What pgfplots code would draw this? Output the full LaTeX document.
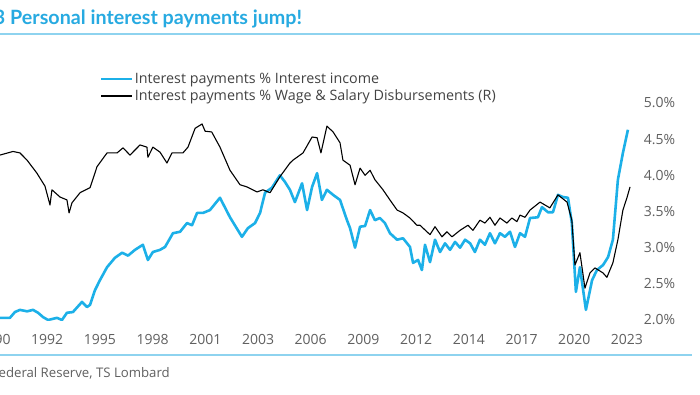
\documentclass[border=0pt]{standalone}
\usepackage{pgfplots}
\pgfplotsset{compat=1.18}
\usepackage{fontspec}
\setmainfont{Open Sans}
\newfontfamily\titlefont{Lato}
\definecolor{cblue}{HTML}{1CB0E8}
\definecolor{tblue}{HTML}{27AAE1}
\definecolor{rulec}{HTML}{8ED3EF}
\definecolor{tgray}{HTML}{606060}
\begin{document}
\begin{tikzpicture}[x=1pt,y=1pt]
\path[use as bounding box, fill=white] (0,0) rectangle (700,394);
\clip (0,0) rectangle (700,394);
\node[anchor=base west, inner sep=0, font=\titlefont\fontsize{19.7}{22}\selectfont\bfseries, text=tblue] at (10,369) {Personal interest payments jump!};
\node[anchor=base east, inner sep=0, font=\titlefont\fontsize{19.7}{22}\selectfont\bfseries, text=tblue] at (5.5,369) {Chart 3};
\draw[rulec, line width=1.2pt] (0,360) -- (700,360);
\draw[rulec, line width=1.2pt] (0,39) -- (692,39);
\node[anchor=base east, inner sep=0, font=\fontsize{13.2}{15}\selectfont, text=tgray] at (170,17) {Source: Federal Reserve, TS Lombard};
\begin{axis}[
  at={(-19.56pt,74pt)}, anchor=south west, scale only axis,
  width=660pt, height=217pt,
  xmin=1989.5, xmax=2023.75, ymin=2, ymax=5,
  axis line style={draw=none}, major tick length=0pt,
  ytick={2,2.5,3,3.5,4,4.5,5},
  yticklabel pos=right,
  yticklabel={\pgfmathprintnumber[fixed,fixed zerofill,precision=1]{\tick}\%},
  xtick={1990.23,1992.965,1995.70,1998.435,2001.17,2003.905,2006.64,2009.375,2012.11,2014.845,2017.58,2020.315,2023.05},
  xticklabels={1990,1992,1995,1998,2001,2003,2006,2009,2012,2014,2017,2020,2023},
  ticklabel style={font=\fontsize{14}{16}\selectfont, text=tgray},
  xticklabel style={yshift=-11pt},
  /pgf/number format/assume math mode=true,
  legend cell align=left,
  legend style={at={(0.1812,1.147)}, anchor=north west, draw=none, fill=none,
    font=\fontsize{14.3}{16}\selectfont, text=tgray!70!black, inner sep=0pt,
    row sep=0.5pt, nodes={inner sep=2pt}},
  legend image code/.code={\draw[#1, line width=1.6pt] (0pt,0pt) -- (31pt,0pt);},
]
\addplot[color=cblue, line width=2.6pt, line join=round] coordinates {
(1990.51,2.03)(1991.03,2.03)(1991.29,2.11)(1991.55,2.14)(1991.92,2.12)(1992.23,2.14)(1992.49,2.10)(1992.75,2.04)(1993.01,2.00)(1993.47,2.03)(1993.73,2.00)(1993.99,2.10)(1994.30,2.11)(1994.77,2.25)(1995.03,2.18)(1995.19,2.21)(1995.44,2.41)(1995.70,2.55)(1996.07,2.73)(1996.48,2.86)(1996.85,2.93)(1997.16,2.89)(1997.52,2.97)(1997.93,3.04)(1998.19,2.83)(1998.45,2.94)(1998.82,2.97)(1999.08,3.01)(1999.49,3.20)(1999.86,3.22)(2000.22,3.34)(2000.48,3.31)(2000.74,3.48)(2001.05,3.48)(2001.41,3.52)(2001.93,3.69)(2002.45,3.42)(2003.07,3.15)(2003.38,3.27)(2003.75,3.34)(2004.01,3.48)(2004.27,3.76)(2004.63,3.83)(2005.04,4.00)(2005.30,3.91)(2005.56,3.80)(2005.82,3.63)(2006.19,3.89)(2006.45,3.52)(2006.71,3.84)(2006.97,4.03)(2007.22,3.66)(2007.48,3.80)(2007.80,3.73)(2008.16,3.66)(2008.52,3.38)(2008.68,3.27)(2008.94,3.00)(2009.20,3.29)(2009.46,3.30)(2009.72,3.52)(2009.97,3.38)(2010.23,3.41)(2010.49,3.34)(2010.75,3.20)(2011.12,3.11)(2011.43,3.13)(2011.79,3.01)(2011.95,2.79)(2012.21,2.83)(2012.41,2.69)(2012.57,3.04)(2012.83,2.80)(2013.09,3.11)(2013.35,2.94)(2013.61,3.06)(2013.87,2.97)(2014.13,3.08)(2014.39,3.00)(2014.65,3.11)(2014.91,3.06)(2015.16,2.94)(2015.42,3.11)(2015.68,3.04)(2015.94,3.20)(2016.20,3.06)(2016.46,3.20)(2016.72,3.15)(2016.98,3.22)(2017.24,3.01)(2017.50,3.20)(2017.76,3.15)(2018.02,3.41)(2018.43,3.42)(2018.64,3.56)(2018.95,3.49)(2019.21,3.49)(2019.47,3.73)(2019.73,3.70)(2019.99,3.69)(2020.19,3.34)(2020.40,2.39)(2020.61,2.73)(2020.92,2.14)(2021.24,2.55)(2021.49,2.69)(2021.81,2.76)(2022.07,2.87)(2022.32,3.11)(2022.58,3.94)(2022.84,4.31)(2023.10,4.63)
};
\addlegendentry{Interest payments \% Interest income}
\addplot[color=black, line width=1.1pt, line join=round] coordinates {
(1990.51,4.28)(1991.19,4.33)(1991.55,4.31)(1991.92,4.21)(1992.43,4.03)(1992.85,3.85)(1993.11,3.59)(1993.21,3.80)(1993.63,3.70)(1993.99,3.66)(1994.10,3.48)(1994.25,3.62)(1994.67,3.76)(1995.19,3.83)(1995.55,4.12)(1996.07,4.31)(1996.59,4.31)(1996.90,4.38)(1997.26,4.28)(1997.78,4.42)(1998.14,4.39)(1998.19,4.25)(1998.45,4.39)(1998.82,4.32)(1999.18,4.17)(1999.44,4.31)(2000.01,4.31)(2000.27,4.39)(2000.64,4.65)(2001.00,4.71)(2001.16,4.61)(2001.50,4.60)(2001.93,4.39)(2002.45,4.07)(2002.97,3.87)(2003.33,3.84)(2003.85,3.77)(2004.16,3.80)(2004.53,3.76)(2005.04,3.98)(2005.56,4.17)(2005.72,4.21)(2006.24,4.31)(2006.71,4.53)(2006.97,4.52)(2007.17,4.31)(2007.48,4.68)(2007.80,4.60)(2008.16,4.45)(2008.31,4.21)(2008.68,4.14)(2008.94,3.87)(2009.20,4.10)(2009.46,4.00)(2009.72,4.07)(2009.97,3.94)(2010.39,3.80)(2010.75,3.66)(2011.12,3.52)(2011.43,3.48)(2011.79,3.41)(2012.15,3.31)(2012.31,3.31)(2012.83,3.18)(2013.09,3.29)(2013.45,3.15)(2013.71,3.22)(2013.97,3.15)(2014.39,3.24)(2014.80,3.31)(2015.06,3.24)(2015.42,3.38)(2015.68,3.34)(2015.94,3.42)(2016.20,3.31)(2016.46,3.41)(2016.82,3.34)(2017.08,3.41)(2017.34,3.36)(2017.50,3.45)(2017.76,3.42)(2018.02,3.52)(2018.54,3.63)(2019.05,3.55)(2019.47,3.73)(2019.94,3.63)(2020.19,3.38)(2020.35,2.76)(2020.61,2.93)(2020.87,2.44)(2021.13,2.65)(2021.39,2.72)(2021.81,2.65)(2022.01,2.59)(2022.32,2.79)(2022.58,3.11)(2022.84,3.52)(2023.05,3.69)(2023.21,3.84)
};
\addlegendentry{Interest payments \% Wage \& Salary Disbursements (R)}
\end{axis}
\end{tikzpicture}
\end{document}
